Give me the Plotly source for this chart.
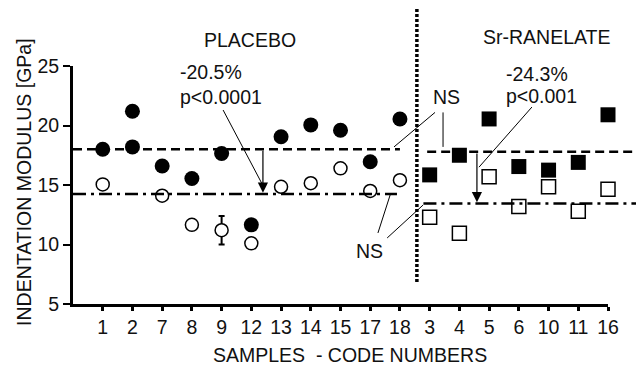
import plotly.graph_objects as go

# ---- data ----
codes_placebo = ['1', '2', '7', '8', '9', '12', '13', '14', '15', '17', '18']
codes_sr = ['3', '4', '5', '6', '10', '11', '16']
all_codes = codes_placebo + codes_sr

placebo_filled = [18.0, 18.2, 16.6, 15.55, 17.65, 11.65, 19.05, 20.05, 19.6, 16.95, 20.55]
placebo_filled_extra_code = ['2']
placebo_filled_extra = [21.2]
placebo_open = [15.05, None, 14.1, 11.65, 11.2, 10.1, 14.85, 15.15, 16.4, 14.5, 15.4]
placebo_open_err = [0, 0, 0, 0, 1.2, 0, 0, 0, 0, 0, 0]

sr_filled = [15.85, 17.5, 20.55, 16.55, 16.25, 16.9, 20.9]
sr_open = [12.3, 10.95, 15.7, 13.2, 14.85, 12.8, 14.65]

placebo_means = [18.0, 14.25]   # dashed (filled), dash-dot (open)
sr_means = [17.8, 13.45]

FONT = "Liberation Sans, Arial, sans-serif"
FS = 19.5

fig = go.Figure()

fig.add_trace(go.Scatter(
    x=codes_placebo, y=placebo_filled, mode='markers',
    marker=dict(symbol='circle', size=15, color='black', line=dict(width=0)),
    showlegend=False, cliponaxis=False))
fig.add_trace(go.Scatter(
    x=placebo_filled_extra_code, y=placebo_filled_extra, mode='markers',
    marker=dict(symbol='circle', size=15, color='black', line=dict(width=0)),
    showlegend=False, cliponaxis=False))
fig.add_trace(go.Scatter(
    x=codes_placebo, y=placebo_open, mode='markers',
    marker=dict(symbol='circle', size=13, color='white', line=dict(width=1.5, color='black')),
    error_y=dict(type='data', array=placebo_open_err, color='black', thickness=2, width=3),
    showlegend=False, cliponaxis=False))
fig.add_trace(go.Scatter(
    x=codes_sr, y=sr_filled, mode='markers',
    marker=dict(symbol='square', size=15, color='black', line=dict(width=0)),
    showlegend=False, cliponaxis=False))
fig.add_trace(go.Scatter(
    x=codes_sr, y=sr_open, mode='markers',
    marker=dict(symbol='square', size=14, color='white', line=dict(width=1.5, color='black')),
    showlegend=False, cliponaxis=False))

# mean lines
fig.add_shape(type='line', xref='x', yref='y', x0=-1, x1=10.0, y0=placebo_means[0], y1=placebo_means[0],
              line=dict(color='black', width=2.5, dash='9px,5px'))
fig.add_shape(type='line', xref='x', yref='y', x0=-1, x1=9.9, y0=placebo_means[1], y1=placebo_means[1],
              line=dict(color='black', width=2.5, dash='13px,5px,3px,5px'))
fig.add_shape(type='line', xref='x domain', yref='y', x0=0.662, x1=1.06, y0=sr_means[0], y1=sr_means[0],
              line=dict(color='black', width=2.5, dash='9px,5px'))
fig.add_shape(type='line', xref='x domain', yref='y', x0=0.655, x1=1.06, y0=sr_means[1], y1=sr_means[1],
              line=dict(color='black', width=2.5, dash='13px,5px,3px,5px'))

# vertical dotted separator
fig.add_shape(type='line', xref='x', yref='y domain', x0=10.57, x1=10.57, y0=0.092, y1=1.244,
              line=dict(color='black', width=3.5, dash='3px,2px'))

# pointer lines
thin = dict(color='black', width=1)
fig.add_shape(type='line', xref='x', yref='y', x0=4.05, y0=21.3, x1=5.36, y1=15.1, line=thin)
fig.add_shape(type='line', xref='x', yref='y', x0=14.44, y0=21.55, x1=12.66, y1=16.5, line=thin)
fig.add_shape(type='line', xref='x', yref='y', x0=11.18, y0=21.1, x1=9.8, y1=18.2, line=thin)
fig.add_shape(type='line', xref='x', yref='y', x0=11.45, y0=21.1, x1=11.45, y1=18.2, line=thin)
fig.add_shape(type='line', xref='x', yref='y', x0=9.67, y0=14.16, x1=9.26, y1=10.97, line=thin)
fig.add_shape(type='line', xref='x', yref='y', x0=10.78, y0=13.32, x1=9.57, y1=10.55, line=thin)

# arrows
for xa, ytop, ybot in [(5.39, 18.0, 14.35), (12.59, 17.77, 13.55)]:
    fig.add_annotation(x=xa, y=ybot, ax=xa, ay=ytop, xref='x', yref='y', axref='x', ayref='y',
                       text='', showarrow=True, arrowhead=2, arrowsize=1.7, arrowwidth=1.2,
                       arrowcolor='black')

def txt(x, y, s, xanchor='center', angle=0):
    fig.add_annotation(x=x, y=y, xref='x domain', yref='y domain', text=s, showarrow=False,
                       xanchor=xanchor, yanchor='middle', textangle=angle,
                       font=dict(family=FONT, size=FS, color='#111111'))

txt(0.331, 1.109, 'PLACEBO')
txt(0.886, 1.122, 'Sr-RANELATE')
txt(0.196, 0.975, '-20.5%', 'left')
txt(0.196, 0.870, 'p&lt;0.0001', 'left')
txt(0.867, 0.966, '-24.3%')
txt(0.875, 0.874, 'p&lt;0.001')
txt(0.699, 0.870, 'NS')
txt(0.555, 0.223, 'NS')
txt(-0.0916, 0.513, 'INDENTATION MODULUS [GPa]', angle=-90)
txt(0.517, -0.214, 'SAMPLES  - CODE NUMBERS')

# page body has an 8px default margin: margins are shifted to compensate
fig.update_layout(
    width=644, height=369,
    margin=dict(l=65, r=44, t=58, b=73),
    paper_bgcolor='white', plot_bgcolor='white',
    font=dict(family=FONT, size=FS, color='#111111'),
    xaxis=dict(type='category', categoryorder='array', categoryarray=all_codes,
               range=[-1, 17], showgrid=False, zeroline=False, automargin=False,
               showline=True, linewidth=3, linecolor='black',
               ticks='outside', ticklen=4, tickwidth=3, tickcolor='black'),
    yaxis=dict(range=[5, 25], tickvals=[5, 10, 15, 20, 25], showgrid=False, zeroline=False,
               automargin=False,
               showline=True, linewidth=3, linecolor='black',
               ticks='outside', ticklen=7, tickwidth=2, tickcolor='black'),
)

fig.write_html("out.html")
